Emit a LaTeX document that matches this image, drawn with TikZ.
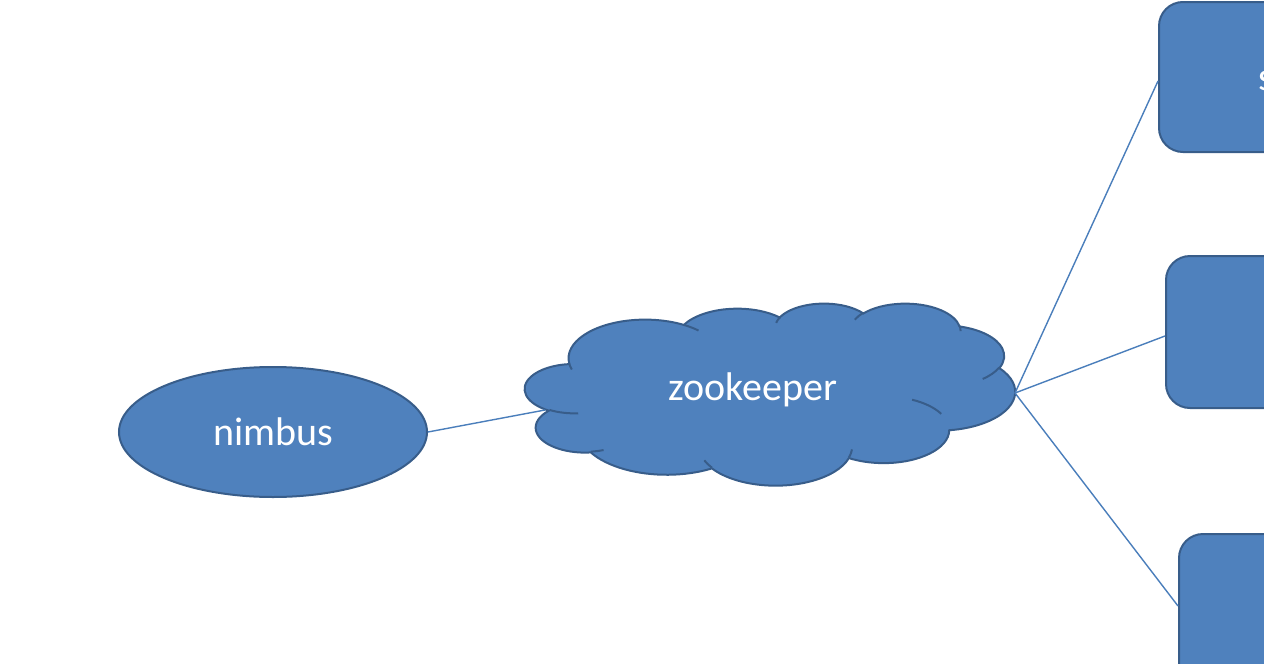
\documentclass[tikz,border=0pt]{standalone}
\usepackage{fontspec}
\setmainfont{Carlito}
\usetikzlibrary{shapes.geometric}
\definecolor{ofill}{HTML}{4F81BD}
\definecolor{oline}{HTML}{385D8A}
\definecolor{conn}{HTML}{4A7EBB}
\tikzset{
  shapebox/.style={fill=ofill,draw=oline,line width=1pt},
  cloudedge/.style={draw=oline,line width=1pt},
  txt/.style={text=white,font=\fontsize{20}{24}\selectfont,inner sep=0pt},
  link/.style={draw=conn,line width=0.7pt},
  oo/.style n args={4}{x radius=#1,y radius=#2,
    start angle={atan2(#1*sin(#3),#2*cos(#3))},
    delta angle={mod(atan2(#1*sin(#3+#4),#2*cos(#3+#4))-atan2(#1*sin(#3),#2*cos(#3))+720,360)}},
}
\begin{document}
\begin{tikzpicture}[x=0.5pt,y=-0.5pt]
\useasboundingbox (0,0) rectangle (1264,664);
\clip (0,0) rectangle (1264,664);
\fill[white] (0,0) rectangle (1264,664);
% nimbus
\node[shapebox,ellipse,minimum width=154pt,minimum height=65pt,inner sep=0pt] (nimbus) at (273,432) {};
\node[txt] (nimbust) at (273,432) {nimbus};
% zookeeper cloud (Office cloud preset in a 490 x 182 frame)
\begin{scope}[shift={(525,303)},x=0.56713pt,y=-0.21065pt]
\path[shapebox] (39.00,143.70)
  arc[oo={67.53}{91.90}{-190.4875}{123.7805}]
  arc[oo={53.33}{72.67}{-144.1024}{89.9452}]
  arc[oo={43.65}{59.45}{-145.8079}{99.7230}]
  arc[oo={48.57}{65.95}{-130.9861}{117.2417}]
  arc[oo={53.33}{72.73}{-78.7089}{109.0269}]
  arc[oo={67.75}{92.20}{-46.2673}{130.2690}]
  arc[oo={57.85}{78.67}{0.6250}{114.0333}]
  arc[oo={67.52}{92.15}{22.4516}{115.1726}]
  arc[oo={77.20}{105.43}{66.2426}{75.7110}]
  arc[oo={43.60}{59.18}{-274.9421}{146.7356}]
  arc[oo={43.45}{59.45}{-246.8285}{152.5189}] -- cycle;
\path[cloudedge]
  (46.93,261.77) arc[oo={43.45}{59.45}{86.7420}{26.4295}]
  (69.28,348.99) arc[oo={43.60}{59.18}{73.6105}{11.4475}]
  (164.78,390.90) arc[oo={67.52}{92.15}{137.6242}{14.0811}]
  (288.27,347.51) arc[oo={67.52}{92.15}{6.4533}{15.9984}]
  (341.29,229.54) arc[oo={57.85}{78.67}{-70.2924}{34.1961}]
  (417.98,153.54) arc[oo={53.33}{72.73}{30.3180}{27.7515}]
  (383.24,54.26) arc[oo={48.57}{65.95}{-13.7443}{14.8589}]
  (290.78,39.52) arc[oo={48.57}{65.95}{-149.1815}{18.1954}]
  (221.41,47.20) arc[oo={43.65}{59.45}{-163.4943}{17.6864}]
  (140.00,51.92) arc[oo={67.53}{91.90}{-66.7070}{12.3194}]
  (41.27,157.89) arc[oo={67.53}{91.90}{157.6544}{11.8582}];
\end{scope}
\node[txt] (zk) at (753,390) {zookeeper};
% supervisor boxes
\node[shapebox,rounded corners=12pt,minimum width=150pt,minimum height=75pt,anchor=north west] (s1) at (1158,1) {};
\node[shapebox,rounded corners=12pt,minimum width=150pt,minimum height=76pt,anchor=north west] (s2) at (1165,255) {};
\node[shapebox,rounded corners=12pt,minimum width=150pt,minimum height=80pt,anchor=north west] (s3) at (1178,533) {};
\node[txt,anchor=base west] (s1t) at (1258,90) {s};
% connectors
\coordinate (zl) at (545,410);
\coordinate (zr) at (1015,393);
\draw[link] (nimbus.east) -- (zl);
\draw[link] (zr) -- ([yshift=-2pt]s1.west);
\draw[link] (zr) -- ([yshift=-2pt]s2.west);
\draw[link] (zr) -- ([yshift=4pt]s3.west);
\end{tikzpicture}
\end{document}
